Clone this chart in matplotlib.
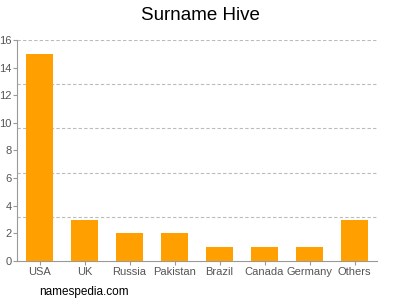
import matplotlib
matplotlib.use("Agg")
import matplotlib.pyplot as plt

# datos del grafico
paises = ['USA', 'UK', 'Russia', 'Pakistan', 'Brazil', 'Canada', 'Germany', 'Others']
valores = [15, 3, 2, 2, 1, 1, 1, 3]
marcas_y = [0, 2, 4, 6, 8, 10, 12, 14, 16]
lineas_guia = [3.2, 6.4, 9.6, 12.8, 16]

plt.rcParams['font.family'] = ['Liberation Sans', 'DejaVu Sans']

fig = plt.figure(figsize=(4, 3), dpi=100)
ax = fig.add_axes([0.0425, 0.13, 0.9, 0.7367])

x = range(len(paises))
ax.bar(x, valores, width=0.62, color='#ffa000', zorder=3)

for y in lineas_guia:
    ax.axhline(y, color='#bbbbbb', linestyle=(0, (3, 2)), linewidth=0.8, zorder=1)

ax.set_xlim(-0.5, len(paises) - 0.5)
ax.set_ylim(0, 16)
ax.set_yticks(marcas_y)
ax.set_xticks(list(x))
ax.set_xticklabels(paises)
ax.tick_params(axis='both', colors='#999999', labelcolor='#555555', labelsize=8, length=3, width=0.8)
ax.tick_params(axis='x', pad=1.5)
ax.tick_params(axis='y', pad=1)

for lado in ['top', 'right']:
    ax.spines[lado].set_visible(False)
for lado in ['left', 'bottom']:
    ax.spines[lado].set_color('#999999')
    ax.spines[lado].set_linewidth(0.8)

fig.text(0.5, 0.948, 'Surname Hive', ha='center', va='center', fontsize=13.5, color='#000000')
fig.text(0.097, 0.027, 'namespedia.com', ha='left', va='center', fontsize=8.5, color='#000000')

fig.savefig('out.png', dpi=100)
